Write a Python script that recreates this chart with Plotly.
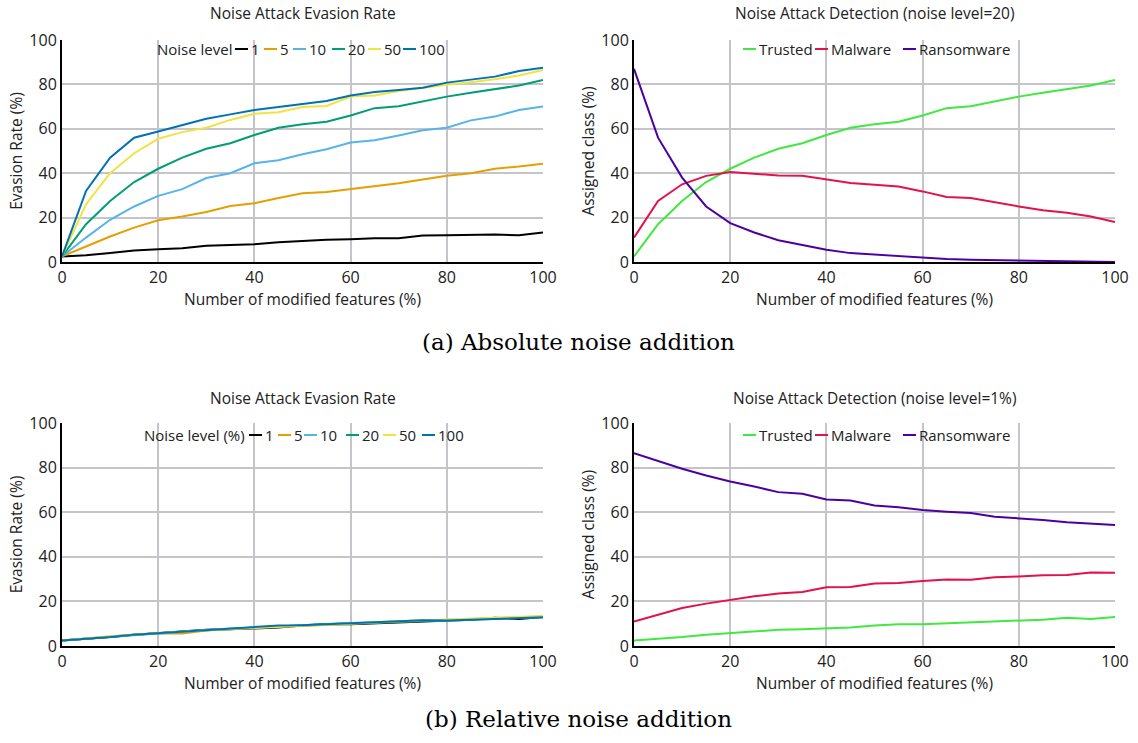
import plotly.graph_objects as go

# ---------------- data ----------------
features = [0, 5, 10, 15, 20, 25, 30, 35, 40, 45, 50, 55, 60, 65, 70, 75, 80, 85, 90, 95, 100]
noise_levels = ["1", "5", "10", "20", "50", "100"]

# (a) Absolute noise addition - evasion rate per noise level
abs_evasion_1 = [2.5, 3.0, 4.0, 5.2, 5.7, 6.2, 7.3, 7.8, 8.0, 8.9, 9.5, 10.0, 10.3, 10.7, 10.7, 11.9, 12.1, 12.2, 12.4, 12.0, 13.3]
abs_evasion_5 = [2.5, 7.0, 11.5, 15.5, 18.8, 20.5, 22.5, 25.2, 26.5, 28.8, 31.0, 31.5, 32.8, 34.2, 35.5, 37.2, 38.8, 40.0, 42.0, 43.0, 44.3]
abs_evasion_10 = [2.5, 11.0, 19.0, 25.0, 29.8, 32.8, 37.8, 40.0, 44.5, 45.8, 48.5, 50.8, 53.8, 54.8, 57.0, 59.3, 60.5, 63.8, 65.5, 68.5, 70.0]
abs_evasion_20 = [2.5, 17.0, 27.5, 36.0, 42.0, 47.0, 51.0, 53.5, 57.2, 60.5, 62.0, 63.2, 66.0, 69.3, 70.2, 72.5, 74.5, 76.2, 77.8, 79.5, 82.0]
abs_evasion_50 = [2.5, 26.0, 40.0, 49.0, 55.5, 58.5, 60.5, 64.0, 66.8, 67.5, 69.8, 70.3, 74.5, 75.0, 77.0, 78.5, 79.8, 81.0, 82.3, 84.0, 86.5]
abs_evasion_100 = [2.5, 32.0, 47.0, 56.0, 58.8, 61.8, 64.5, 66.5, 68.5, 69.8, 71.2, 72.5, 75.0, 76.6, 77.5, 78.5, 80.8, 82.0, 83.5, 86.0, 87.5]

# (a) detection at noise level 20
abs_trusted = [2.5, 17.0, 27.5, 36.0, 42.0, 47.0, 51.0, 53.5, 57.2, 60.5, 62.0, 63.2, 66.0, 69.3, 70.2, 72.5, 74.5, 76.2, 77.8, 79.5, 82.0]
abs_malware = [11.0, 27.5, 35.0, 38.8, 40.5, 39.8, 39.0, 38.8, 37.3, 35.6, 34.8, 34.0, 31.8, 29.3, 28.8, 26.8, 25.0, 23.3, 22.2, 20.5, 18.0]
abs_ransomware = [87.0, 56.0, 38.0, 25.0, 17.5, 13.3, 9.8, 7.5, 5.5, 4.0, 3.3, 2.7, 2.0, 1.3, 1.0, 0.8, 0.6, 0.5, 0.3, 0.1, 0.0]

# (b) Relative noise addition - evasion rate per noise level (%)
rel_evasion_1 = [2.5, 3.2, 4.0, 5.0, 5.8, 6.3, 7.3, 7.5, 8.0, 8.3, 9.2, 9.7, 9.8, 10.2, 10.9, 11.2, 11.5, 11.8, 12.7, 12.1, 13.0]
rel_evasion_5 = [2.5, 3.4, 4.3, 5.2, 5.6, 5.6, 7.0, 7.6, 8.1, 8.8, 9.0, 9.6, 10.0, 10.4, 10.8, 11.3, 11.6, 12.0, 12.3, 12.8, 13.3]
rel_evasion_10 = [2.5, 3.3, 4.2, 5.1, 5.8, 6.5, 7.2, 7.8, 8.3, 9.1, 9.4, 9.8, 10.3, 10.7, 11.0, 11.4, 11.3, 11.8, 12.2, 12.6, 12.9]
rel_evasion_20 = [2.5, 3.2, 4.1, 5.1, 5.9, 6.4, 7.1, 7.7, 8.2, 8.9, 9.3, 9.9, 10.1, 10.5, 11.0, 11.3, 11.7, 11.9, 12.4, 12.9, 13.1]
rel_evasion_50 = [2.5, 3.5, 4.4, 5.0, 5.8, 6.3, 7.1, 7.6, 8.2, 8.5, 9.1, 9.5, 10.1, 10.6, 11.1, 11.5, 11.9, 12.2, 12.6, 12.9, 13.4]
rel_evasion_100 = [2.5, 3.2, 4.0, 5.1, 5.8, 6.5, 7.3, 7.7, 8.4, 9.2, 9.3, 9.8, 10.3, 10.7, 11.2, 11.5, 11.4, 11.8, 12.4, 12.7, 12.9]

# (b) detection at noise level 1%
rel_trusted = [2.5, 3.2, 4.0, 5.0, 5.8, 6.3, 7.3, 7.5, 8.0, 8.3, 9.2, 9.7, 9.8, 10.2, 10.9, 11.2, 11.5, 11.8, 12.7, 12.1, 13.0]
rel_malware = [11.0, 14.0, 17.0, 19.0, 20.7, 22.3, 23.5, 24.2, 26.3, 26.5, 28.0, 28.3, 29.2, 29.8, 29.7, 30.8, 31.2, 31.7, 31.8, 33.0, 32.8]
rel_ransomware = [86.5, 83.0, 79.5, 76.5, 73.8, 71.5, 69.0, 68.3, 65.7, 65.2, 63.0, 62.2, 61.0, 60.2, 59.6, 58.0, 57.3, 56.5, 55.5, 55.0, 54.3]

class_names = ["Trusted", "Malware", "Ransomware"]
axis_ticks = [0, 20, 40, 60, 80, 100]

# ---------------- styling ----------------
W, H = 1138, 743
FONT = "Open Sans"
TXT = "#222222"
noise_colors = ["#000000", "#E69F00", "#56B4E9", "#009E73", "#F0E442", "#0072B2"]
class_colors = ["#40E840", "#E3124B", "#4B00A0"]
GRID = "#c4c4ca"


def px(x):
    return x / W


def py(y):
    return 1 - y / H


# panel pixel boxes: (left, right, top, bottom)
panels = {
    "tl": (62, 543, 40, 262),
    "tr": (634, 1115, 40, 262),
    "bl": (62, 543, 423, 646),
    "br": (634, 1115, 423, 646),
}
axis_ids = {"tl": ("x", "y"), "tr": ("x2", "y2"), "bl": ("x3", "y3"), "br": ("x4", "y4")}

fig = go.Figure()

abs_ev = [abs_evasion_1, abs_evasion_5, abs_evasion_10, abs_evasion_20, abs_evasion_50, abs_evasion_100]
rel_ev = [rel_evasion_1, rel_evasion_5, rel_evasion_10, rel_evasion_20, rel_evasion_50, rel_evasion_100]
abs_det = [abs_trusted, abs_malware, abs_ransomware]
rel_det = [rel_trusted, rel_malware, rel_ransomware]

groups = [
    ("x", "y", noise_levels, abs_ev, noise_colors),
    ("x2", "y2", class_names, abs_det, class_colors),
    ("x3", "y3", noise_levels, rel_ev, noise_colors),
    ("x4", "y4", class_names, rel_det, class_colors),
]
for xa, ya, names, series, cols in groups:
    for name, s, c in zip(names, series, cols):
        fig.add_trace(go.Scatter(x=features, y=s, mode="lines", name=name, showlegend=False,
                                 line=dict(color=c, width=2), xaxis=xa, yaxis=ya))

layout = dict(
    width=W, height=H,
    margin=dict(l=0, r=0, t=0, b=0, autoexpand=False),
    paper_bgcolor="white", plot_bgcolor="white",
    font=dict(family=FONT, color=TXT),
    showlegend=False,
)

ytitles = {"tl": "Evasion Rate (%)", "tr": "Assigned class (%)", "bl": "Evasion Rate (%)", "br": "Assigned class (%)"}
for key, (l, r, t, b) in panels.items():
    xa, ya = axis_ids[key]
    xname = "xaxis" if xa == "x" else "xaxis" + xa[1:]
    yname = "yaxis" if ya == "y" else "yaxis" + ya[1:]
    layout[xname] = dict(
        domain=[px(l), px(r)], anchor=ya, range=[0, 100], tickvals=axis_ticks,
        showgrid=True, gridcolor=GRID, gridwidth=1.5, zeroline=False,
        showline=True, linecolor="black", linewidth=2, ticks="", ticklen=0,
        tickfont=dict(size=16, family=FONT, color=TXT),
        title=dict(text="Number of modified features (%)", font=dict(size=15.5, family=FONT, color=TXT), standoff=0),
        fixedrange=True,
    )
    layout[yname] = dict(
        domain=[py(b), py(t)], anchor=xa, range=[0, 100], tickvals=axis_ticks,
        showgrid=True, gridcolor=GRID, gridwidth=1.5, zeroline=False,
        showline=True, linecolor="black", linewidth=2, ticks="", ticklen=0,
        tickfont=dict(size=16, family=FONT, color=TXT),
        title=dict(text=ytitles[key], font=dict(size=15.5, family=FONT, color=TXT), standoff=3),
        fixedrange=True,
    )

fig.update_layout(**layout)

annotations = []
shapes = []

# panel titles
titles = {
    "tl": "Noise Attack Evasion Rate",
    "tr": "Noise Attack Detection (noise level=20)",
    "bl": "Noise Attack Evasion Rate",
    "br": "Noise Attack Detection (noise level=1%)",
}
title_y = {"tl": 13, "tr": 13, "bl": 398, "br": 398}
for key, txt in titles.items():
    l, r, t, b = panels[key]
    annotations.append(dict(text=txt, x=px((l + r) / 2), y=py(title_y[key]), xref="paper", yref="paper",
                            showarrow=False, font=dict(size=15.5, family=FONT, color=TXT),
                            xanchor="center", yanchor="middle"))

# manual compact legends: (title, title_x, line starts, labels, colors, y)
legend_defs = [
    ("Noise level", 155, [235, 264, 293, 332, 368, 403], noise_levels, noise_colors, 49),
    (None, None, [743, 815, 903], class_names, class_colors, 49),
    ("Noise level (%)", 142, [249, 278, 304, 346, 383, 422], noise_levels, noise_colors, 435),
    (None, None, [743, 815, 903], class_names, class_colors, 435),
]
LINE_LEN = 13
for title, tx, xs, labels, cols, ly in legend_defs:
    if title:
        annotations.append(dict(text=title, x=px(tx), y=py(ly), xref="paper", yref="paper", showarrow=False,
                                xanchor="left", yanchor="middle", font=dict(size=15, family=FONT, color=TXT)))
    for x0, lab, c in zip(xs, labels, cols):
        shapes.append(dict(type="line", xref="paper", yref="paper", x0=px(x0), x1=px(x0 + LINE_LEN),
                           y0=py(ly), y1=py(ly), line=dict(color=c, width=2)))
        annotations.append(dict(text=lab, x=px(x0 + LINE_LEN + 1), y=py(ly), xref="paper", yref="paper",
                                showarrow=False, xanchor="left", yanchor="middle",
                                font=dict(size=15, family=FONT, color=TXT)))

# captions
CAP_FONT = dict(size=23, family="DejaVu Serif", color="black")
annotations.append(dict(text="(a) Absolute noise addition", x=px(578), y=py(342), xref="paper", yref="paper",
                        showarrow=False, xanchor="center", yanchor="middle", font=CAP_FONT))
annotations.append(dict(text="(b) Relative noise addition", x=px(578), y=py(719), xref="paper", yref="paper",
                        showarrow=False, xanchor="center", yanchor="middle", font=CAP_FONT))

fig.update_layout(annotations=annotations, shapes=shapes)

fig.write_html("out.html")
